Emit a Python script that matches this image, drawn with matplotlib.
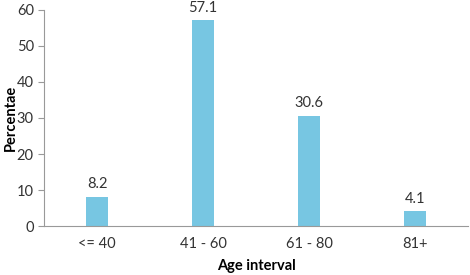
import numpy as np
import matplotlib.pyplot as plt

plt.rcParams['font.family'] = ['Lato', 'DejaVu Sans']

ages = ['<= 40', '41 - 60', '61 - 80', '81+']
percent = [8.2, 57.1, 30.6, 4.1]

fig = plt.figure(figsize=(4.7, 2.75), dpi=100)
ax = fig.add_axes([0.094, 0.178, 0.902, 0.786])

x = np.arange(len(ages))
ax.bar(x, percent, width=0.21, color='#77C6E2')
for xi, v in zip(x, percent):
    ax.text(xi, v + 1.5, f'{v:.1f}', ha='center', va='bottom', fontsize=10.5, color='#333333')

ax.set_xlim(-0.5, 3.5)
ax.set_ylim(0, 60)
ax.set_yticks(range(0, 61, 10))
ax.set_xticks(x)
ax.set_xticklabels(ages)
ax.tick_params(axis='x', length=0, pad=8, labelsize=10.5, colors='#333333')
ax.tick_params(axis='y', length=4, labelsize=10.5, colors='#333333', color='#999999')
for s in ['top', 'right']:
    ax.spines[s].set_visible(False)
for s in ['left', 'bottom']:
    ax.spines[s].set_color('#999999')

ax.set_xlabel('Age interval', fontsize=10.5, fontweight='bold', labelpad=6)
ax.set_ylabel('Percentae', fontsize=10.5, fontweight='bold')
ax.yaxis.set_label_coords(-0.062, 0.5)

fig.savefig('out.png')
